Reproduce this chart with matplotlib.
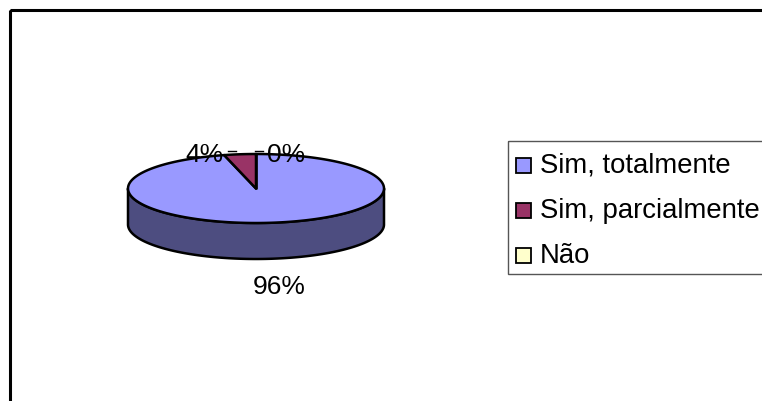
import numpy as np
import matplotlib.pyplot as plt
from matplotlib.patches import Polygon, Rectangle

# Dados
categorias = ['Sim, totalmente', 'Sim, parcialmente', 'Não']
valores = [96, 4, 0]
cores_topo = ['#9999FF', '#993366', '#FFFFCC']
cores_lado = ['#4D4D80', '#4D1A33', '#808066']

plt.rcParams['font.family'] = ['Liberation Sans', 'DejaVu Sans']

W, H = 762, 402
fig = plt.figure(figsize=(W / 100, H / 100), dpi=100)
ax = fig.add_axes([0, 0, 1, 1])
ax.set_xlim(0, W)
ax.set_ylim(H, 0)
ax.axis('off')

# moldura
ax.add_patch(Rectangle((9.5, 10.5), 800, 500, fill=False, edgecolor='black', lw=2.2))

# geometria da pizza 3D (elipse)
cx, cy, a, b, prof = 256, 189.5, 128, 34.5, 36


def ponto(t):
    # t em graus, sentido horário a partir das 12 horas
    r = np.radians(t)
    return cx + a * np.sin(r), cy - b * np.cos(r)


total = sum(valores)
fracs = np.array(valores) / total
inicio = np.concatenate([[0], np.cumsum(fracs)[:-1]]) * 360
fim = np.cumsum(fracs) * 360

# lateral (parte frontal, de 90 a 270 graus)
for i in range(len(valores)):
    t0, t1 = max(inicio[i], 90), min(fim[i], 270)
    if t1 <= t0:
        continue
    ts = np.linspace(t0, t1, 200)
    xs, ys = ponto(ts)
    pts = list(zip(xs, ys)) + list(zip(xs[::-1], ys[::-1] + prof))
    ax.add_patch(Polygon(pts, closed=True, facecolor=cores_lado[i],
                         edgecolor='black', lw=1.8, joinstyle='round'))

# topo
for i in range(len(valores)):
    ts = np.linspace(inicio[i], fim[i], max(2, int(fim[i] - inicio[i]) * 2))
    xs, ys = ponto(ts)
    pts = [(cx, cy)] + list(zip(xs, ys))
    ax.add_patch(Polygon(pts, closed=True, facecolor=cores_topo[i],
                         edgecolor='black', lw=1.8, joinstyle='round'))

# rótulos de porcentagem
fs = 19
ax.text(279.5, 294, f'{valores[0]}%', fontsize=fs, ha='center', va='baseline')
ax.text(223, 162, f'{valores[1]}%', fontsize=fs, ha='right', va='baseline')
ax.text(267, 162, f'{valores[2]}%', fontsize=fs, ha='left', va='baseline')
# linhas de chamada
ax.plot([228, 236], [152, 152], color='black', lw=1)
ax.plot([255, 263], [152, 152], color='black', lw=1)

# legenda
ax.add_patch(Rectangle((507.5, 141.5), 400, 133, fill=False, edgecolor='#555555', lw=1))
for i, nome in enumerate(categorias):
    yc = 166.5 + 45 * i
    ax.add_patch(Rectangle((515.5, yc - 7.5), 15, 15, facecolor=cores_topo[i],
                           edgecolor='black', lw=1.3))
    ax.text(540, yc + 6.5, nome, fontsize=19.8, ha='left', va='baseline')

fig.savefig('out.png', dpi=100)
